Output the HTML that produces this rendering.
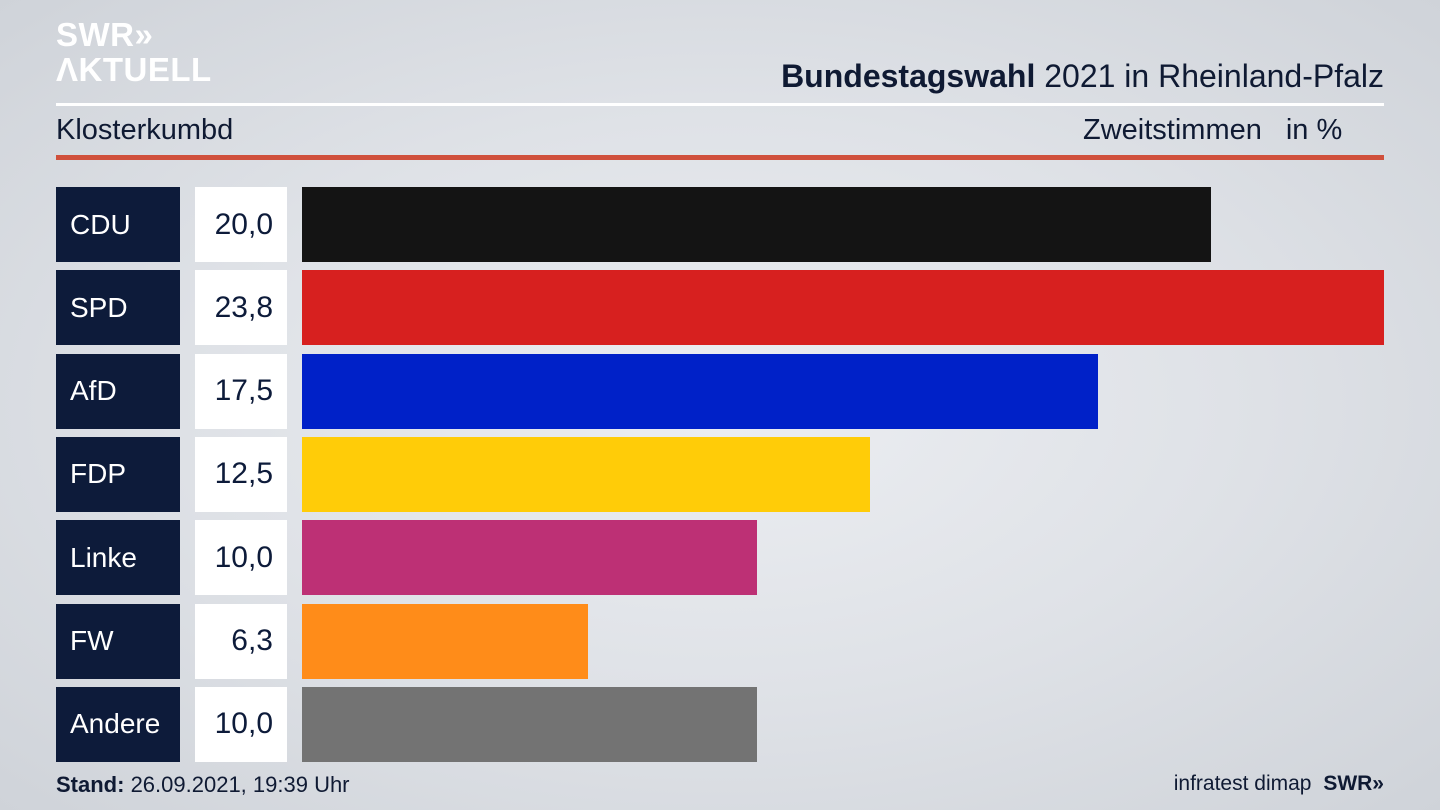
<!DOCTYPE html>
<html><head><meta charset="utf-8"><style>
body{margin:0;width:1440px;height:810px;overflow:hidden;font-family:"Liberation Sans",sans-serif;background:radial-gradient(ellipse at 50% 50%,#eceef2 0%,#dfe2e7 50%,#cfd3d9 100%);position:relative;color:#0f1a33}
.abs{position:absolute}
.lab{position:absolute;left:56px;width:124px;background:#0d1b3a;color:#fff;font-size:28px;box-sizing:border-box;padding-left:14px;display:flex;align-items:center}
.val{position:absolute;left:195px;width:92px;background:#fff;color:#0d1b3a;font-size:30px;box-sizing:border-box;padding-right:14px;display:flex;align-items:center;justify-content:flex-end}
.bar{position:absolute}
</style></head><body>
<div class="abs" style="left:56px;top:17px;color:#fff;font-weight:bold;font-size:33px;line-height:35px;letter-spacing:0.5px">SWR»<br>ΛKTUELL</div>
<div class="abs" style="right:56px;top:58px;font-size:32px"><b>Bundestagswahl</b> 2021 in Rheinland-Pfalz</div>
<div class="abs" style="left:56px;width:1328px;top:103px;height:3px;background:#fff"></div>
<div class="abs" style="left:56px;top:114px;font-size:29px">Klosterkumbd</div>
<div class="abs" style="left:1083px;top:114px;font-size:29px">Zweitstimmen<span style="margin-left:24px">in %</span></div>
<div class="abs" style="left:56px;width:1328px;top:155px;height:5px;background:#d0503c"></div>
<div id="chart"></div>
<div class="abs" style="left:56px;top:772px;font-size:22px"><b>Stand:</b> 26.09.2021, 19:39 Uhr</div>
<div class="abs" style="right:56px;top:772px;font-size:21px">infratest dimap <b style="margin-left:6px">SWR»</b></div>
<script>
const parties=["CDU","SPD","AfD","FDP","Linke","FW","Andere"];
const values=[20.0,23.8,17.5,12.5,10.0,6.3,10.0];
const colors=["#141414","#d7201f","#0021c8","#ffcc08","#bd3075","#ff8c19","#737373"];
const x0=302,x1=1384,maxV=23.8;
const xs=v=>(x1-x0)*v/maxV;
const c=document.getElementById('chart');
parties.forEach((p,i)=>{
 const top=187+i*83.33,h=75;
 const l=document.createElement('div');l.className='lab';l.style.top=top+'px';l.style.height=h+'px';l.textContent=p;
 
 
 const v=document.createElement('div');v.className='val';v.style.top=top+'px';v.style.height=h+'px';v.textContent=values[i].toFixed(1).replace('.',',');
 
 
 const b=document.createElement('div');b.className='bar';b.style.top=top+'px';b.style.height=h+'px';b.style.left=x0+'px';b.style.width=xs(values[i])+'px';b.style.background=colors[i];
 
 
 c.append(l,v,b);
});
</script>
</body></html>
